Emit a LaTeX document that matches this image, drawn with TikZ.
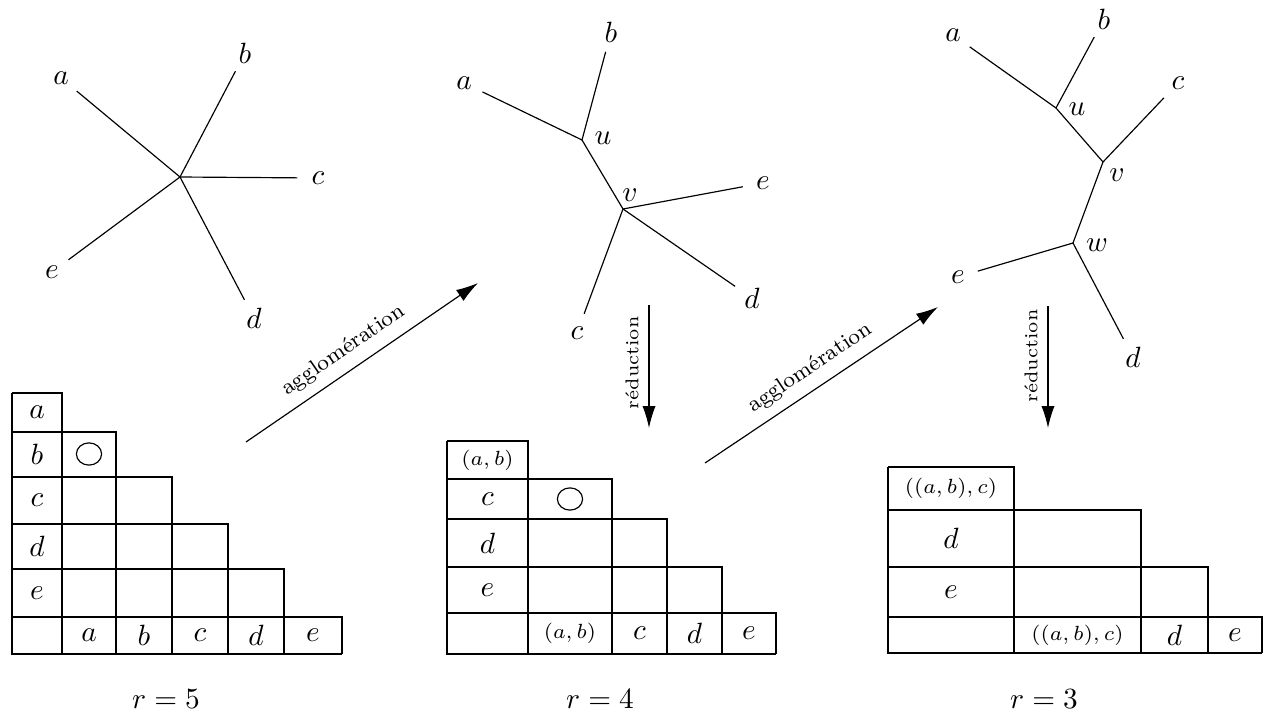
\documentclass[tikz,border=0pt]{standalone}
\usepackage{amsmath}
\usepackage{tikz}
\usetikzlibrary{arrows.meta}
\usetikzlibrary{positioning, calc}

\begin{document}
\begin{tikzpicture}[
    x=0.012cm, y=-0.012cm,
    leaf/.style={circle, inner sep=0pt, minimum size=13.6pt},
    knot/.style={inner sep=1pt},
    small cell/.style={font=\scriptsize},
    step arrow/.style={-{Latex[length=7.5pt, width=4.5pt]}},
    tag/.style={font=\fontsize{7.5}{9}\selectfont},
    small tag/.style={font=\fontsize{6.3}{7}\selectfont}
]
    \useasboundingbox (0,0) rectangle (1265,713);

    % r = 5 : star tree
    \coordinate (o5) at (180,177);
    \foreach \n/\x/\y in {a/61/78, b/245/53, c/318/178, d/254/318, e/52/272} {
        \node[leaf] (\n5) at (\x,\y) {$\n$};
        \draw (o5) -- (\n5);
    }

    % r = 4
    \coordinate (u4) at (582,140);
    \coordinate (v4) at (623,209);
    \node[knot] (lu4) at (603,138) {$u$};
    \node[knot] (lv4) at (630,195) {$v$};
    \draw (u4) -- (v4);
    \foreach \n/\x/\y/\p in {a/464/83/u4, b/611/32/u4, e/763/183/v4, d/752/298/v4, c/577/333/v4} {
        \node[leaf] (\n4) at (\x,\y) {$\n$};
        \draw (\p) -- (\n4);
    }

    % r = 3
    \coordinate (u3) at (1056,108);
    \coordinate (v3) at (1103,162);
    \coordinate (w3) at (1073,243);
    \node[knot] (lu3) at (1077,109) {$u$};
    \node[knot] (lv3) at (1117,175) {$v$};
    \node[knot] (lw3) at (1097,245) {$w$};
    \draw (u3) -- (v3) -- (w3);
    \foreach \n/\x/\y/\p in {a/953/35/u3, b/1104/19/u3, c/1178/83/v3, e/958/277/w3, d/1133/357/w3} {
        \node[leaf] (\n3) at (\x,\y) {$\n$};
        \draw (\p) -- (\n3);
    }

    % distance tables
    \draw (12,393) |- (342,654);
    \foreach \x/\y in {62/393, 116/432, 172/477, 228/524, 284/569, 342/617}
        \draw (12,\y) -| (\x,654);
    \foreach \t/\y in {a/412.5, b/454.5, c/500.5, d/546.5, e/593}
        \node (row5\t) at (37,\y) {$\t$};
    \foreach \t/\x in {a/89, b/144, c/200, d/256, e/313}
        \node (col5\t) at (\x,635.5) {$\t$};
    \draw (89,454) ellipse [x radius=4.3pt, y radius=3.8pt];

    \draw (447,441) |- (776,654);
    \foreach \x/\y in {528/441, 612/479, 667/519, 722/567, 776/613}
        \draw (447,\y) -| (\x,654);
    \node[small cell] (row4ab) at (487.5,460) {$(a,b)$};
    \foreach \t/\y in {c/499, d/543, e/590}
        \node (row4\t) at (487.5,\y) {$\t$};
    \node[small cell] (col4ab) at (570,633.5) {$(a,b)$};
    \foreach \t/\x in {c/639.5, d/694.5, e/749}
        \node (col4\t) at (\x,633.5) {$\t$};
    \draw (570,499) ellipse [x radius=4.3pt, y radius=3.8pt];

    \draw (888,467) |- (1262,653);
    \foreach \x/\y in {1014/467, 1141/510, 1208/567, 1262/617}
        \draw (888,\y) -| (\x,653);
    \node[small cell] (row3abc) at (951,488.5) {$((a,b),c)$};
    \foreach \t/\y in {d/538.5, e/592}
        \node (row3\t) at (951,\y) {$\t$};
    \node[small cell] (col3abc) at (1077.5,635) {$((a,b),c)$};
    \foreach \t/\x in {d/1174.5, e/1235}
        \node (col3\t) at (\x,635) {$\t$};

    % steps
    \coordinate (g1s) at (246,442);
    \coordinate (g1e) at (478,283);
    \draw[step arrow] (g1s) -- node[tag, sloped, above, pos=.47] {agglomération} (g1e);
    \coordinate (g2s) at (705,463);
    \coordinate (g2e) at (938,307);
    \draw[step arrow] (g2s) -- node[tag, sloped, above] {agglomération} (g2e);

    \coordinate (d1s) at (649,305);
    \coordinate (d1e) at (649,428);
    \draw[step arrow] (d1s) -- node[small tag, rotate=90, anchor=south, pos=.47] {réduction} (d1e);
    \coordinate (d2s) at (1048,306);
    \coordinate (d2e) at (1048,428);
    \draw[step arrow] (d2s) -- node[small tag, rotate=90, anchor=south, pos=.41] {réduction} (d2e);

    \node (r5) at (166,699) {$r=5$};
    \node (r4) at (600,699) {$r=4$};
    \node (r3) at (1044,699) {$r=3$};
\end{tikzpicture}
\end{document}
